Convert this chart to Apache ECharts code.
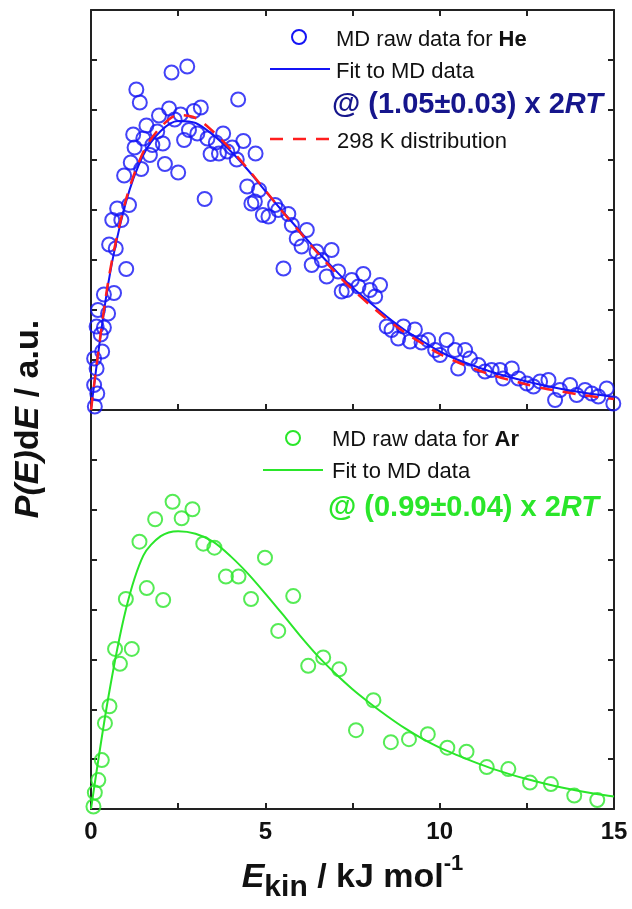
<!DOCTYPE html>
<html>
<head>
<meta charset="utf-8">
<script src="https://cdn.jsdelivr.net/npm/echarts@6/dist/echarts.min.js"></script>
<style>html,body{margin:0;padding:0;background:#fff}#c{width:632px;height:909px}</style>
</head>
<body>
<div id="c"></div>
<script>
// ---- data ----
const xTicks = [0, 5, 10, 15];
const heX = [2.76,2.31,1.30,1.40,4.22,3.15,2.95,2.24,1.95,2.57,2.40,1.59,1.21,1.50,1.25,1.76,2.06,1.90,2.81,3.05,2.67,3.34,3.79,3.58,3.43,3.67,3.91,4.05,4.37,4.18,4.72,1.69,1.14,1.44,2.12,2.50,0.95,4.48,4.82,4.60,3.26,4.93,1.09,0.75,0.61,0.87,0.52,0.71,1.01,0.37,0.66,0.20,0.49,0.16,0.37,0.28,0.32,0.09,0.16,0.09,0.18,0.11,4.70,5.09,5.28,5.37,5.66,5.76,6.19,5.90,6.04,6.47,6.90,6.62,6.33,5.52,7.09,6.76,7.81,7.48,7.67,8.29,8.00,7.19,7.33,8.15,8.48,8.62,8.96,9.29,8.81,9.15,9.48,9.67,9.87,10.20,10.01,10.44,10.73,10.87,10.53,11.11,11.30,11.49,11.73,12.07,11.82,12.26,12.50,12.69,12.88,13.12,13.31,13.45,13.74,13.93,14.17,14.36,14.55,14.79,14.98];
const heY = [6.87,6.75,6.41,6.15,6.21,6.05,5.98,6.03,5.89,5.91,5.81,5.69,5.51,5.43,5.25,5.30,5.33,5.57,5.60,5.53,5.40,5.43,5.53,5.35,5.12,5.13,5.17,5.25,5.38,5.01,5.13,5.10,4.95,4.82,4.92,4.75,4.69,4.47,4.40,4.13,4.22,3.90,4.10,4.03,3.80,3.80,3.31,3.23,2.82,2.31,2.34,2.00,1.93,1.67,1.65,1.51,1.17,1.03,0.83,0.50,0.33,0.07,4.17,3.87,4.10,4.00,3.92,3.70,3.60,3.43,3.27,3.17,3.20,3.00,2.90,2.83,2.77,2.67,2.72,2.60,2.47,2.50,2.40,2.37,2.40,2.27,1.67,1.60,1.67,1.61,1.43,1.37,1.35,1.40,1.20,1.40,1.10,1.20,1.20,1.03,0.83,0.90,0.77,0.80,0.80,0.83,0.63,0.63,0.53,0.47,0.57,0.60,0.20,0.40,0.50,0.30,0.40,0.33,0.27,0.43,0.13];
const arX = [2.34,2.91,2.60,1.84,1.39,3.22,3.54,4.99,3.87,4.23,1.60,1.00,2.07,4.59,5.80,5.37,0.69,1.17,0.83,6.23,6.66,7.12,0.53,0.40,0.31,0.21,0.11,0.07,8.10,7.60,8.60,9.12,9.66,10.22,10.77,11.35,11.97,12.59,13.19,13.86,14.52];
const arY = [6.16,6.01,5.83,5.81,5.36,5.32,5.24,5.04,4.66,4.66,4.43,4.21,4.19,4.21,4.27,3.57,3.21,3.21,2.91,2.87,3.04,2.80,2.06,1.72,0.98,0.58,0.33,0.05,2.18,1.58,1.34,1.40,1.50,1.23,1.15,0.84,0.80,0.53,0.50,0.27,0.18];
const fitX = [0,0.5,1,1.5,2,2.5,3,3.5,4,4.5,5,5.5,6,6.5,7,7.5,8,8.5,9,9.5,10,10.5,11,11.5,12,12.5,13,13.5,14,14.5,15];
const heFitY = [0,2.55,4.15,5.1,5.58,5.78,5.74,5.5,5.18,4.8,4.38,3.97,3.57,3.17,2.8,2.45,2.15,1.86,1.6,1.38,1.17,1.01,0.88,0.76,0.66,0.57,0.49,0.42,0.36,0.31,0.26];
const he298Y = [0,2.6,4.2,5.16,5.66,5.9,5.84,5.57,5.22,4.82,4.39,3.96,3.55,3.14,2.76,2.41,2.1,1.81,1.55,1.33,1.12,0.96,0.82,0.7,0.6,0.51,0.43,0.37,0.31,0.26,0.22];
const arFitY = [0,2.25,4.0,5.08,5.47,5.57,5.52,5.36,5.07,4.72,4.32,3.9,3.47,3.07,2.72,2.4,2.12,1.86,1.62,1.41,1.23,1.08,0.94,0.81,0.7,0.6,0.51,0.43,0.36,0.3,0.25];

// ---- styles ----
const FF = '"Liberation Sans", Arial, sans-serif';
const BLUE = '#1414f5', RED = '#ff1e1e', GREEN = '#2ae62a', NAVY = '#16168c', INK = '#111';
const zip = (a, b) => a.map((v, i) => [v, b[i]]);

const chart = echarts.init(document.getElementById('c'), null, {renderer: 'canvas'});
const grids = [
  {left: 91, top: 10, width: 523, height: 400},
  {left: 91, top: 410, width: 523, height: 399}
];
const axLine = {show: true, onZero: false, lineStyle: {color: '#222', width: 2}};
function xAx(gi, pos, ticks, labels) {
  return {type: 'value', gridIndex: gi, position: pos, min: 0, max: 15, interval: 2.5,
    axisLine: axLine, splitLine: {show: false},
    axisTick: {show: ticks, inside: true, length: 6, lineStyle: {color: '#222', width: 2}},
    axisLabel: labels ? {show: true, margin: 11, color: INK, fontFamily: FF, fontWeight: 'bold', fontSize: 24,
      formatter: v => (xTicks.indexOf(v) >= 0 ? String(v) : '')} : {show: false}};
}
function yAx(gi, pos) {
  return {type: 'value', gridIndex: gi, position: pos, min: 0, max: 8, interval: 1,
    axisLine: axLine, splitLine: {show: false},
    axisTick: {show: true, inside: true, length: 6, lineStyle: {color: '#222', width: 2}},
    axisLabel: {show: false}};
}

// measure helper for the composed axis title
const mctx = document.createElement('canvas').getContext('2d');
function tw(font, s) { mctx.font = font; return mctx.measureText(s).width; }
const xt = [
  {t: 'E', font: 'italic bold 34px ' + FF, dy: 0},
  {t: 'kin', font: 'bold 30px ' + FF, dy: 10},
  {t: ' / kJ mol', font: 'bold 34px ' + FF, dy: 0},
  {t: '-1', font: 'bold 22px ' + FF, dy: -14}
];
let total = 0; xt.forEach(p => { p.w = tw(p.font, p.t); total += p.w; });
let cx = 352.5 - total / 2;
const xTitle = xt.map(p => { const e = {type: 'text', x: cx, y: 878 + p.dy,
  style: {text: p.t, font: p.font, fill: INK, align: 'left', verticalAlign: 'middle'}}; cx += p.w; return e; });

const tok = (size, extra) => Object.assign({fontSize: size, fontFamily: FF, fill: INK}, extra || {});
const graphic = [
  // top legend
  {type: 'circle', shape: {cx: 299, cy: 37, r: 7}, style: {fill: 'none', stroke: BLUE, lineWidth: 2}},
  {type: 'text', x: 336, y: 40, style: {text: '{n|MD raw data for }{b|He}', verticalAlign: 'middle',
    rich: {n: tok(22), b: tok(22, {fontWeight: 'bold'})}}},
  {type: 'line', shape: {x1: 270, y1: 69, x2: 330, y2: 69}, style: {stroke: BLUE, lineWidth: 2}},
  {type: 'text', x: 336, y: 72, style: {text: 'Fit to MD data', font: '22px ' + FF, fill: INK, verticalAlign: 'middle'}},
  {type: 'text', x: 332, y: 105, style: {text: '{b|@ (1.05±0.03) x 2}{i|RT}', verticalAlign: 'middle',
    rich: {b: tok(29, {fontWeight: 'bold', fill: NAVY}), i: tok(29, {fontWeight: 'bold', fontStyle: 'italic', fill: NAVY})}}},
  {type: 'line', shape: {x1: 270, y1: 139, x2: 332, y2: 139}, style: {stroke: RED, lineWidth: 2.5, lineDash: [13, 10]}},
  {type: 'text', x: 337, y: 142, style: {text: '298 K distribution', font: '22px ' + FF, fill: INK, verticalAlign: 'middle'}},
  // bottom legend
  {type: 'circle', shape: {cx: 293, cy: 438, r: 7}, style: {fill: 'none', stroke: GREEN, lineWidth: 2}},
  {type: 'text', x: 332, y: 440, style: {text: '{n|MD raw data for }{b|Ar}', verticalAlign: 'middle',
    rich: {n: tok(22), b: tok(22, {fontWeight: 'bold'})}}},
  {type: 'line', shape: {x1: 263, y1: 470, x2: 323, y2: 470}, style: {stroke: GREEN, lineWidth: 2}},
  {type: 'text', x: 332, y: 472, style: {text: 'Fit to MD data', font: '22px ' + FF, fill: INK, verticalAlign: 'middle'}},
  {type: 'text', x: 328, y: 508, style: {text: '{b|@ (0.99±0.04) x 2}{i|RT}', verticalAlign: 'middle',
    rich: {b: tok(29, {fontWeight: 'bold', fill: GREEN}), i: tok(29, {fontWeight: 'bold', fontStyle: 'italic', fill: GREEN})}}},
  // y title
  {type: 'text', x: 29, y: 419, rotation: Math.PI / 2, style: {text: '{i|P(E)}{n|d}{i|E}{n| / a.u.}',
    align: 'center', verticalAlign: 'middle',
    rich: {i: tok(34, {fontWeight: 'bold', fontStyle: 'italic'}), n: tok(34, {fontWeight: 'bold'})}}}
].concat(xTitle);

const scat = (name, data, color, xi, yi) => ({name, type: 'scatter', xAxisIndex: xi, yAxisIndex: yi, data,
  symbol: 'circle', symbolSize: 14, itemStyle: {color: 'rgba(0,0,0,0)', borderColor: color, borderWidth: 2},
  emphasis: {disabled: true}, z: 2});
const line = (name, data, color, xi, yi, dash, w, z) => ({name, type: 'line', xAxisIndex: xi, yAxisIndex: yi, data,
  smooth: 0.3, showSymbol: false, lineStyle: {color, width: w, type: dash || 'solid'}, z,
  emphasis: {disabled: true}});

chart.setOption({
  animation: false,
  grid: grids,
  xAxis: [xAx(0, 'bottom', true, false), xAx(0, 'top', true, false), xAx(1, 'bottom', true, true), xAx(1, 'top', false, false)],
  yAxis: [yAx(0, 'left'), yAx(0, 'right'), yAx(1, 'left'), yAx(1, 'right')],
  series: [
    scat('MD raw data for He', zip(heX, heY), BLUE, 0, 0),
    line('Fit to MD data (He)', zip(fitX, heFitY), BLUE, 0, 0, null, 2, 3),
    line('298 K distribution', zip(fitX, he298Y), RED, 0, 0, [13, 10], 2.5, 4),
    scat('MD raw data for Ar', zip(arX, arY), GREEN, 2, 2),
    line('Fit to MD data (Ar)', zip(fitX, arFitY), GREEN, 2, 2, null, 2, 3)
  ],
  graphic
});
</script>
</body>
</html>
